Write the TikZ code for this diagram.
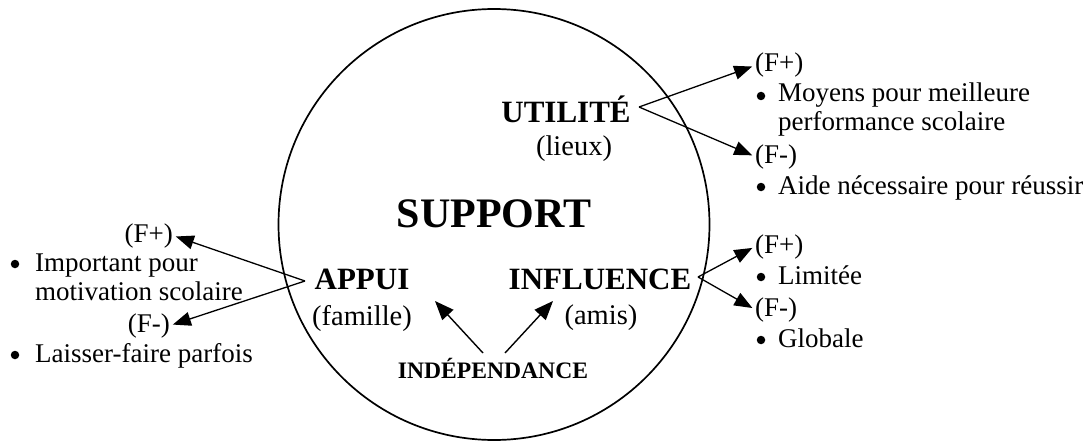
\documentclass[tikz,border=0pt]{standalone}
\usepackage{fontspec}
\setmainfont{Liberation Serif}
\usetikzlibrary{arrows.meta}
\begin{document}
\begin{tikzpicture}[x=1pt,y=-1pt,
  txt/.style={inner sep=0pt,anchor=base,font=\fontsize{27}{30}\selectfont},
  dot/.style={circle,fill=black,inner sep=0pt,minimum size=8.5pt},
  lbl/.style={inner sep=0pt,anchor=base,font=\fontsize{31}{34}\selectfont\bfseries},
  sub/.style={inner sep=0pt,anchor=base,font=\fontsize{28.5}{32}\selectfont},
  arr/.style={line width=1.4pt,-{Triangle[length=19pt,width=15pt]}},
  fork/.style={line width=1.3pt,-{Triangle[length=18pt,width=14pt]},shorten >=3pt}]
\useasboundingbox (0,0) rectangle (1083,441);

% central circle
\draw[line width=1.7pt] (494,224.5) circle [radius=215.5pt];

% centre titles
\node[inner sep=0pt,anchor=base,font=\fontsize{42}{46}\selectfont\bfseries] (support) at (494,227) {SUPPORT};
\node[lbl] (util) at (566,122) {UTILITÉ};
\node[sub] (lieux) at (574,155) {(lieux)};
\node[lbl] (appui) at (362,289) {APPUI};
\node[sub] (famille) at (362,325) {(famille)};
\node[lbl] (infl) at (600,289) {INFLUENCE};
\node[sub] (amis) at (601,324) {(amis)};
\node[inner sep=0pt,anchor=base,font=\fontsize{23.6}{26}\selectfont\bfseries] (indep) at (493,378) {INDÉPENDANCE};

% fork points next to the labels
\coordinate (utilV) at (639,107);
\coordinate (appuiV) at (305,281);
\coordinate (inflV) at (698,277);

% left block (APPUI)
\node[txt,anchor=base east] (aFp) at (173,242) {(F+)};
\node[dot] (aB1) at (15,264) {};
\node[txt,anchor=base west] (aL1) at (35,271) {Important pour};
\node[txt,anchor=base west] (aL2) at (35,300) {motivation scolaire};
\node[txt,anchor=base east] (aFm) at (170,332) {(F-)};
\node[dot] (aB2) at (15,355) {};
\node[txt,anchor=base west] (aL3) at (35,362) {Laisser-faire parfois};

% top right block (UTILITÉ)
\node[txt,anchor=base west] (uFp) at (755,72) {(F+)};
\node[dot] (uB1) at (761,96) {};
\node[txt,anchor=base west] (uL1) at (778,102) {Moyens pour meilleure};
\node[txt,anchor=base west] (uL2) at (778,131) {performance scolaire};
\node[txt,anchor=base west] (uFm) at (755,163) {(F-)};
\node[dot] (uB2) at (761,187) {};
\node[txt,anchor=base west] (uL3) at (778,194) {Aide nécessaire pour réussir};

% bottom right block (INFLUENCE)
\node[txt,anchor=base west] (iFp) at (755,253) {(F+)};
\node[dot] (iB1) at (761,277) {};
\node[txt,anchor=base west] (iL1) at (778,284) {Limitée};
\node[txt,anchor=base west] (iFm) at (755,316) {(F-)};
\node[dot] (iB2) at (761,340) {};
\node[txt,anchor=base west] (iL2) at (778,347) {Globale};

% forks
\draw[fork] (appuiV) -- (aFp.east);
\draw[fork] (appuiV) -- (aFm.east);
\draw[fork] (utilV) -- (uFp.west);
\draw[fork] (utilV) -- (uFm.west);
\draw[fork] (inflV) -- (iFp.west);
\draw[fork] (inflV) -- (iFm.west);

% independence arrows
\coordinate (indL) at (483,353);
\coordinate (indR) at (505,353);
\coordinate (tipL) at (435,301);
\coordinate (tipR) at (553,301);
\draw[arr] (indL) -- (tipL);
\draw[arr] (indR) -- (tipR);
\end{tikzpicture}
\end{document}
